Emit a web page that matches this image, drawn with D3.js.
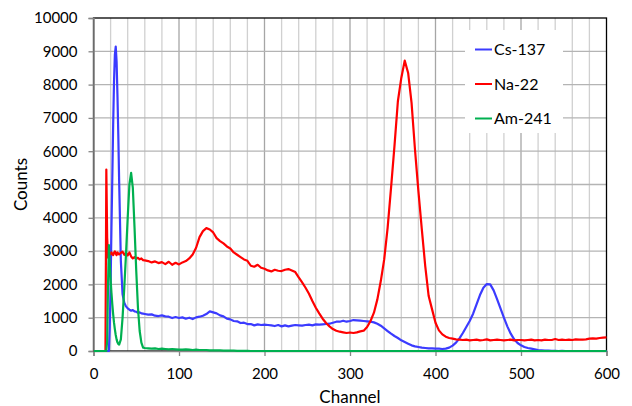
<!DOCTYPE html>
<html>
<head>
<meta charset="utf-8">
<script src="https://cdn.jsdelivr.net/npm/d3@7"></script>
<style>
  html, body { margin: 0; padding: 0; background: #fff; }
  svg { display: block; font-family: Lato, "Open Sans", sans-serif; }
</style>
</head>
<body>
<svg id="chart" width="632" height="406"></svg>
<script>
// Channel grid: fine steps over the low-energy peaks, then every 4 channels.
const lowChannels = [0, 10, 14, 15, 16, 17, 18, 19, 20, 21, 22, 23, 24, 25, 26, 27, 28, 29,
  30, 32, 34, 36, 38, 40, 42, 44, 46, 48, 50, 52, 54, 56, 58];
const highChannels = d3.range(60, 601, 4);
const channels = lowChannels.concat(highChannels);

const seriesNames = ["Cs-137", "Na-22", "Am-241"];
const seriesColors = ["#3b3bff", "#ff0000", "#00b050"];

// Cs-137 counts
const cs137 = [
  0, 0, 0, 0, 0, 0, 0, 700, 2000, 3700, 5200, 6800, 8100, 8900, 9140, 8700, 7700, 6500,
  5100, 2700, 1700, 1450, 1340, 1280, 1240, 1210, 1230, 1190, 1180, 1150, 1160, 1130, 1120,
  // 60..96
  1110, 1090, 1100, 1060, 1050, 1070, 1040, 1030, 990, 1020,
  // 100..136
  990, 1010, 970, 1000, 960, 1010, 1030, 1060, 1110, 1190,
  // 140..176
  1160, 1130, 1070, 1040, 970, 950, 900, 890, 840, 850,
  // 180..216
  810, 810, 770, 800, 780, 790, 780, 770, 750, 780,
  // 220..256
  740, 770, 740, 760, 780, 770, 760, 780, 790, 770,
  // 260..296
  800, 790, 800, 810, 820, 850, 880, 880, 910, 880,
  // 300..336
  900, 930, 920, 910, 900, 890, 880, 860, 820, 760,
  // 340..376
  680, 600, 520, 450, 390, 320, 270, 220, 170, 140,
  // 380..416
  120, 100, 90, 80, 80, 70, 70, 60, 70, 100,
  // 420..456
  160, 250, 380, 540, 720, 900, 1120, 1400, 1680, 1900,
  // 460..496
  2010, 2000, 1820, 1560, 1280, 1000, 740, 520, 350, 240,
  // 500..536
  170, 120, 90, 70, 50, 30, 20, 10, 10, 5,
  // 540..576
  5, 0, 5, 0, 0, 0, 0, 0, 0, 0,
  // 580..600
  0, 0, 0, 0, 0, 0
];

// Na-22 counts
const na22 = [
  0, 0, 0, 5450, 3400, 2800, 2880, 2950, 2900, 2960, 2920, 2880, 2950, 2990, 2920, 2880, 2960, 2930,
  2900, 2950, 2980, 2890, 2950, 2870, 2960, 2840, 2780, 2820, 2770, 2800, 2750, 2780, 2730,
  // 60..96
  2720, 2700, 2660, 2690, 2640, 2670, 2610, 2680, 2590, 2650,
  // 100..136
  2600, 2660, 2700, 2780, 2900, 3100, 3420, 3600, 3690, 3650,
  // 140..176
  3560, 3390, 3300, 3230, 3140, 3080, 2960, 2890, 2820, 2750,
  // 180..216
  2710, 2560, 2530, 2590, 2500, 2470, 2420, 2390, 2440, 2410,
  // 220..256
  2400, 2440, 2460, 2420, 2370, 2210, 2060, 1900, 1720, 1500,
  // 260..296
  1300, 1130, 970, 840, 740, 660, 610, 580, 560, 540,
  // 300..336
  555, 540, 560, 590, 610, 720, 900, 1150, 1550, 2100,
  // 340..376
  2750, 3700, 4900, 6150, 7500, 8200, 8720, 8350, 7450, 6050,
  // 380..416
  4800, 3650, 2550, 1650, 1250, 850, 620, 500, 430, 390,
  // 420..456
  370, 350, 340, 330, 340, 320, 330, 340, 320, 330,
  // 460..496
  350, 320, 330, 340, 330, 320, 330, 340, 320, 330,
  // 500..536
  330, 320, 330, 340, 320, 330, 320, 340, 330, 330,
  // 540..576
  360, 330, 340, 330, 340, 330, 350, 340, 340, 350,
  // 580..600
  370, 380, 370, 390, 400, 410
];

// Am-241 counts
const am241 = [
  0, 0, 0, 0, 300, 2000, 3180, 2600, 2150, 1750, 1400, 1100, 850, 650, 480, 350, 260, 210,
  190, 350, 1000, 1900, 2900, 4000, 5000, 5350, 4900, 3700, 2400, 1300, 600, 250, 100,
  // 60..96
  90, 80, 70, 80, 60, 70, 60, 50, 60, 50,
  // 100..136
  40, 40, 50, 40, 30, 40, 30, 30, 30, 20,
  // 140..176
  20, 20, 20, 10, 10, 10, 10, 5, 5, 5,
  // 180..216
  5, 0, 0, 0, 0, 0, 0, 0, 0, 0,
  // 220..256
  0, 0, 0, 0, 0, 0, 0, 0, 0, 0,
  // 260..296
  0, 0, 0, 0, 0, 0, 0, 0, 0, 0,
  // 300..336
  0, 0, 0, 0, 0, 0, 0, 0, 0, 0,
  // 340..376
  0, 0, 0, 0, 0, 0, 0, 0, 0, 0,
  // 380..416
  0, 0, 0, 0, 0, 0, 0, 0, 0, 0,
  // 420..456
  0, 0, 0, 0, 0, 0, 0, 0, 0, 0,
  // 460..496
  0, 0, 0, 0, 0, 0, 0, 0, 0, 0,
  // 500..536
  0, 0, 0, 0, 0, 0, 0, 0, 0, 0,
  // 540..576
  0, 0, 0, 0, 0, 0, 0, 0, 0, 0,
  // 580..600
  0, 0, 0, 0, 0, 0
];

const xTicks = [0, 100, 200, 300, 400, 500, 600];
const yTicks = [0, 1000, 2000, 3000, 4000, 5000, 6000, 7000, 8000, 9000, 10000];
const xTitle = "Channel";
const yTitle = "Counts";

const svg = d3.select("#chart");
const plot = { left: 93.5, right: 606.5, top: 18, bottom: 351 };

const x = d3.scaleLinear().domain([0, 600]).range([plot.left, plot.right]);
const y = d3.scaleLinear().domain([0, 10000]).range([plot.bottom, plot.top]);

// Vertical gridlines every 20 channels, darker at each labelled hundred
const minorX = d3.range(20, 600, 20).filter(v => v % 100 !== 0);
svg.append("g").selectAll("line").data(minorX).join("line")
  .attr("x1", d => x(d)).attr("x2", d => x(d))
  .attr("y1", plot.top).attr("y2", plot.bottom)
  .attr("stroke", "#d0d0d0").attr("stroke-width", 1.3);
svg.append("g").selectAll("line").data(xTicks.slice(1, -1)).join("line")
  .attr("x1", d => x(d)).attr("x2", d => x(d))
  .attr("y1", plot.top).attr("y2", plot.bottom)
  .attr("stroke", "#a6a6a6").attr("stroke-width", 1.3);
// Horizontal gridlines
svg.append("g").selectAll("line").data(yTicks.slice(1, -1)).join("line")
  .attr("x1", plot.left).attr("x2", plot.right)
  .attr("y1", d => y(d)).attr("y2", d => y(d))
  .attr("stroke", "#b4b4b4").attr("stroke-width", 1.3);

// Plot frame
svg.append("rect")
  .attr("x", plot.left).attr("y", plot.top)
  .attr("width", plot.right - plot.left).attr("height", plot.bottom - plot.top)
  .attr("fill", "none").attr("stroke", "#000").attr("stroke-width", 1.3);

// Axes
const yAxis = d3.axisLeft(y).tickValues(yTicks).tickSize(5).tickPadding(11).tickFormat(d3.format("d"));
const xAxis = d3.axisBottom(x).tickValues(xTicks).tickSize(5).tickPadding(12).tickFormat(d3.format("d"));

const gy = svg.append("g").attr("transform", `translate(${plot.left},0)`).call(yAxis);
const gx = svg.append("g").attr("transform", `translate(0,${plot.bottom})`).call(xAxis);
[gx, gy].forEach(g => {
  g.select(".domain").attr("stroke", "#868686").attr("stroke-width", 1.6);
  g.selectAll(".tick line").attr("stroke", "#868686").attr("stroke-width", 1.3);
  g.selectAll(".tick text").attr("fill", "#000").style("font-size", "15px")
    .style("font-family", "Lato, 'Open Sans', sans-serif");
});

// Legend box (drawn before the lines so the traces stay visible)
const legendX = 465, legendY = 30;
svg.append("rect").attr("x", legendX).attr("y", legendY)
  .attr("width", 98).attr("height", 103).attr("fill", "#fff");

// Spectra
const seriesData = [cs137, na22, am241];
const line = d3.line()
  .x((d, i) => x(channels[i]))
  .y(d => y(d));
seriesData.forEach((vals, k) => {
  svg.append("path")
    .datum(vals)
    .attr("d", line)
    .attr("fill", "none")
    .attr("stroke", seriesColors[k])
    .attr("stroke-width", 2.2)
    .attr("stroke-linejoin", "round");
});

// Legend entries
const legendRows = [49.5, 84, 118.5];
seriesNames.forEach((name, k) => {
  svg.append("line")
    .attr("x1", 475).attr("x2", 492)
    .attr("y1", legendRows[k]).attr("y2", legendRows[k])
    .attr("stroke", seriesColors[k]).attr("stroke-width", 2);
  svg.append("text")
    .attr("x", 494).attr("y", legendRows[k]).attr("dy", "0.36em")
    .style("font-size", "16px").attr("fill", "#000")
    .text(name);
});

// Axis titles
svg.append("text")
  .attr("x", (plot.left + plot.right) / 2).attr("y", 397).attr("dy", "0.35em")
  .attr("text-anchor", "middle").style("font-size", "17px").attr("fill", "#000")
  .text(xTitle);
svg.append("text")
  .attr("transform", `translate(21,${(plot.top + plot.bottom) / 2}) rotate(-90)`)
  .attr("dy", "0.35em")
  .attr("text-anchor", "middle").style("font-size", "17px").attr("fill", "#000")
  .text(yTitle);
</script>
</body>
</html>
